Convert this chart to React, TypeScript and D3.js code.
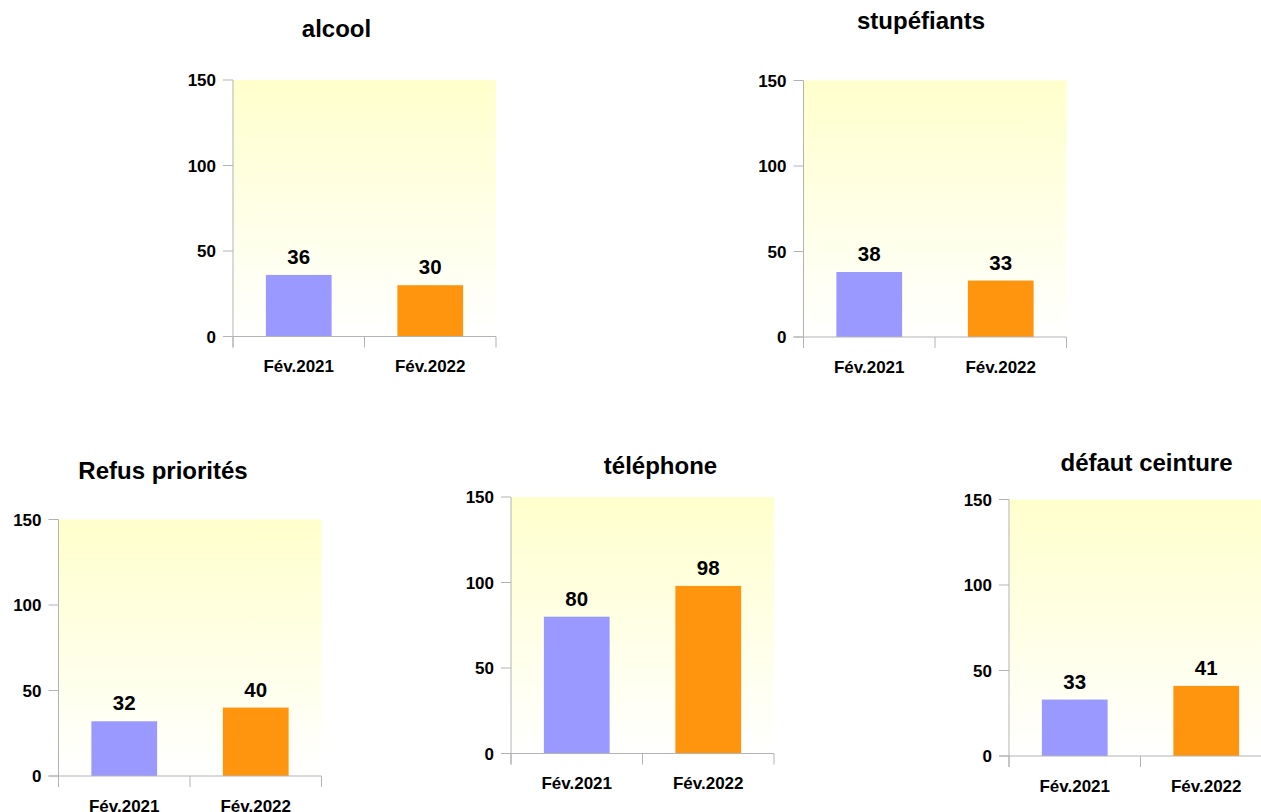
import React from "react";
import * as d3 from "d3";

const categories = ["Fév.2021", "Fév.2022"];
const titles = ["alcool", "stupéfiants", "Refus priorités", "téléphone", "défaut ceinture"];
const values2021 = [36, 38, 32, 80, 33];
const values2022 = [30, 33, 40, 98, 41];
const yTicks = [0, 50, 100, 150];

// layout of each panel: plot left, plot top, title center x, title baseline y
const panelLayout = [
  { left: 233, top: 80, tx: 336.5, ty: 37 },
  { left: 803.5, top: 80.5, tx: 921, ty: 29 },
  { left: 58.5, top: 519.5, tx: 163, ty: 479 },
  { left: 511, top: 497, tx: 660.5, ty: 474 },
  { left: 1009, top: 499.5, tx: 1146.5, ty: 471 },
];

const PW = 263;
const PH = 256.5;
const colors = ["#9999ff", "#ff950e"];
const axisColor = "#b3b3b3";
const font = "'Liberation Sans', Arial, sans-serif";

function Panel({ idx }: { idx: number }) {
  const L = panelLayout[idx];
  const vals = [values2021[idx], values2022[idx]];
  const x = d3.scaleBand().domain(categories).range([L.left, L.left + PW]).paddingInner(0).paddingOuter(0);
  const y = d3.scaleLinear().domain([0, 150]).range([L.top + PH, L.top]);
  const bw = x.bandwidth() * 0.5;
  const zero = y(0);
  return (
    <g>
      <rect x={L.left} y={L.top} width={PW} height={PH} fill="url(#bg)" />
      {categories.map((c, i) => (
        <rect key={c} x={(x(c) as number) + (x.bandwidth() - bw) / 2} y={y(vals[i])} width={bw} height={zero - y(vals[i])} fill={colors[i]} />
      ))}
      {categories.map((c, i) => (
        <text key={"v" + c} x={(x(c) as number) + x.bandwidth() / 2} y={y(vals[i]) - 11} textAnchor="middle" fontFamily={font} fontWeight="bold" fontSize={20.5} fill="#000">
          {vals[i]}
        </text>
      ))}
      <line x1={L.left} x2={L.left} y1={L.top} y2={zero + 11} stroke={axisColor} strokeWidth={1} />
      <line x1={L.left - 10} x2={L.left + PW} y1={zero} y2={zero} stroke={axisColor} strokeWidth={1} />
      {yTicks.map((t) => (
        <g key={t}>
          <line x1={L.left - 10} x2={L.left} y1={y(t)} y2={y(t)} stroke={axisColor} strokeWidth={1} />
          <text x={L.left - 17} y={y(t) + 6} textAnchor="end" fontFamily={font} fontWeight="bold" fontSize={17} fill="#000">
            {t}
          </text>
        </g>
      ))}
      {[0, 1, 2].map((k) => (
        <line key={k} x1={L.left + k * x.bandwidth()} x2={L.left + k * x.bandwidth()} y1={zero} y2={zero + 11} stroke={axisColor} strokeWidth={1} />
      ))}
      {categories.map((c) => (
        <text key={"x" + c} x={(x(c) as number) + x.bandwidth() / 2} y={zero + 35.5} textAnchor="middle" fontFamily={font} fontWeight="bold" fontSize={17} fill="#000">
          {c}
        </text>
      ))}
      <text x={L.tx} y={L.ty} textAnchor="middle" fontFamily={font} fontWeight="bold" fontSize={24} fill="#000">
        {titles[idx]}
      </text>
    </g>
  );
}

export default function App() {
  return (
    <svg width={1261} height={812} style={{ position: "absolute", left: 0, top: 0 }}>
      <defs>
        <linearGradient id="bg" x1="0" y1="0" x2="0" y2="1">
          <stop offset="0" stopColor="#ffffcc" />
          <stop offset="1" stopColor="#ffffff" />
        </linearGradient>
      </defs>
      <rect x={0} y={0} width={1261} height={812} fill="#fff" />
      {titles.map((_, i) => (
        <Panel key={i} idx={i} />
      ))}
    </svg>
  );
}
